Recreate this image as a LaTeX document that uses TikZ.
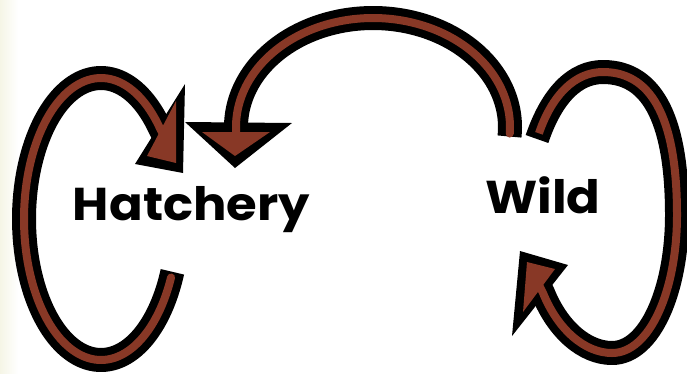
\documentclass[tikz,border=0pt]{standalone}
\usepackage{fontspec}
\newfontfamily\labfont{Poppins}
\definecolor{arrowbrown}{RGB}{136,56,38}
\definecolor{cream}{RGB}{245,245,230}
\tikzset{
  outerband/.style={draw=black, line width=24pt, line cap=butt, line join=round},
  innerband/.style={draw=arrowbrown, line width=8pt, line cap=butt, line join=round},
  headout/.style={fill=black},
  headin/.style={fill=arrowbrown},
  lab/.style={font=\labfont\bfseries\fontsize{46}{46}\selectfont, anchor=base, inner sep=0pt, xscale=1.08}
}
\begin{document}
\begin{tikzpicture}[x=1pt,y=-1pt]
\useasboundingbox (0,0) rectangle (687,373);
\fill[white] (0,0) rectangle (687,373);
\shade[left color=cream, right color=white] (0,0) rectangle (18,373);

% centre lines of the three bands
\def\leftloop{plot[domain=22:320, samples=120, variable=\t] ({101+77*cos(\t)},{219+141*sin(\t)}) -- (165,138)}
\def\midarc{plot[domain=5:-180, samples=120, variable=\t] ({373+137*cos(\t)},{127+109*sin(\t)}) -- (236,137)}
\def\rightloop{(537,139) .. controls (552,95) and (575,72) .. (603,72)
  .. controls (655,72) and (677,125) .. (677,215)
  .. controls (677,290) and (650,353) .. (612,353)
  .. controls (585,353) and (558,330) .. (543,293) -- (537,281)}

% black layer
\draw[outerband] \leftloop;
\draw[outerband] \midarc;
\draw[outerband] \rightloop;
\fill[headout] (185,84) -- (135,164) -- (183,173) -- cycle;
\fill[headout] (185,122) -- (292,123) -- (235,168) -- cycle;
\fill[headout] (520,251) -- (568,265) -- (512,336) -- cycle;

% brown layer
\draw[innerband, shorten <=6pt] \leftloop;
\draw[innerband, shorten <=6pt] \midarc;
\draw[innerband, shorten <=6pt] \rightloop;
\fill[headin] (176,101) -- (147,156) -- (176,163) -- cycle;
\fill[headin] (202,132) -- (270,132) -- (235,156) -- cycle;
\fill[headin] (527,262) -- (555,269) -- (523,312) -- cycle;

% labels
\node[lab] (hatchery) at (191.5,220) {Hatchery};
\node[lab] (wild) at (543,213) {Wild};
\end{tikzpicture}
\end{document}
